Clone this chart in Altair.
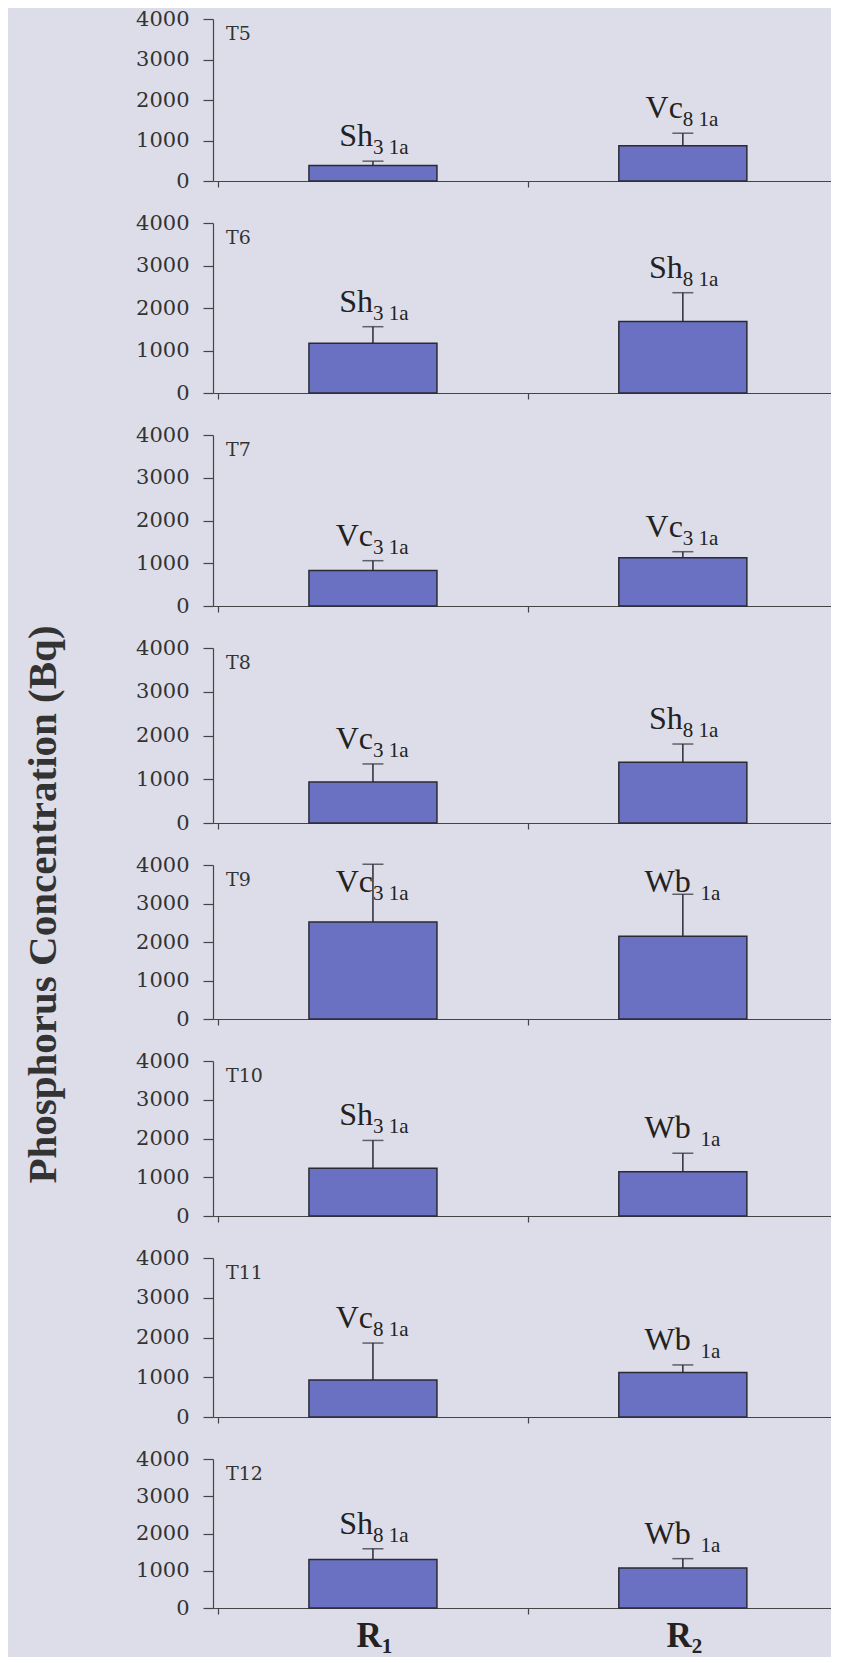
import altair as alt
import pandas as pd

# ---- data ----
panels = ["T5", "T6", "T7", "T8", "T9", "T10", "T11", "T12"]
reps = ["R1", "R2"]

r1_species = ["Sh", "Sh", "Vc", "Vc", "Vc", "Sh", "Vc", "Sh"]
r1_sub = ["3 1a", "3 1a", "3 1a", "3 1a", "3 1a", "3 1a", "8 1a", "8 1a"]
r1_mean = [380, 1170, 830, 940, 2520, 1230, 930, 1300]
r1_err = [110, 390, 230, 410, 1500, 720, 930, 290]

r2_species = ["Vc", "Sh", "Vc", "Sh", "Wb", "Wb", "Wb", "Wb"]
r2_sub = ["8 1a", "8 1a", "3 1a", "8 1a", "1a", "1a", "1a", "1a"]
r2_mean = [870, 1680, 1130, 1390, 2150, 1140, 1120, 1075]
r2_err = [310, 680, 140, 415, 1090, 480, 190, 250]

y_ticks = [0, 1000, 2000, 3000, 4000]
rep_letter = ["R", "R"]
rep_sub = ["1", "2"]

# ---- styling ----
BG = "#dcdde8"
BAR = "#6a71c2"
EDGE = "#2a2a35"
TXT = "#222222"
AX = "#444444"
heights = [162, 170, 171, 175, 154, 155, 159, 149]
PW = 618
PX_PER_UNIT = 315
XMAX = PW / PX_PER_UNIT

x_enc = alt.X(
    "pos:Q",
    scale=alt.Scale(domain=[0, XMAX], nice=False, zero=False),
    axis=alt.Axis(values=[0, 1], tickCount=10, labels=False, title=None,
                  grid=False, tickSize=6, tickColor=AX, domainColor=AX,
                  domainWidth=1.2, tickWidth=1.2),
)
y_scale = alt.Scale(domain=[0, 4000], nice=False)
y_axis = alt.Axis(values=y_ticks, tickCount=10, format="d", title=None,
                  grid=False, tickSize=10, labelPadding=14, labelOverlap=False,
                  labelFont="DejaVu Serif", labelFontSize=21,
                  labelColor="#333333", domainColor=AX, tickColor=AX,
                  domainWidth=1.2, tickWidth=1.2)


def panel(i, last):
    df = pd.DataFrame({
        "rep": reps,
        "mean": [r1_mean[i], r2_mean[i]],
        "err": [r1_err[i], r2_err[i]],
        "base": [r1_species[i], r2_species[i]],
        "sub": [r1_sub[i], r2_sub[i]],
    })
    base = alt.Chart(df).transform_calculate(
        pos="indexof(['R1','R2'], datum.rep) + 0.5",
        top="datum.mean + datum.err",
        laby="min(datum.mean + datum.err, 2900)",
    ).transform_calculate(
        labx="datum.pos + (datum.base == 'Wb' ? 8 : 0) / %d" % PX_PER_UNIT,
        subx="datum.pos + (datum.base == 'Wb' ? 18 : 0) / %d" % PX_PER_UNIT,
    )
    bars = base.mark_bar(orient="vertical", width=128, color=BAR, stroke=EDGE,
                         strokeWidth=1.5).encode(
        x=x_enc, y=alt.Y("mean:Q", scale=y_scale, axis=y_axis))
    rule = base.mark_rule(color=EDGE, strokeWidth=1.5).encode(
        x="pos:Q", y="mean:Q", y2="top:Q")
    cap = base.mark_tick(orient="horizontal", size=21, thickness=1.5,
                         color=EDGE).encode(x="pos:Q", y="top:Q")
    lab = base.mark_text(align="right", baseline="alphabetic", dy=-15,
                         font="Liberation Serif", fontSize=32, color=TXT).encode(
        x="labx:Q", y="laby:Q", text="base:N")
    lab_sub = base.mark_text(align="left", baseline="alphabetic", dy=-7,
                             font="Liberation Serif", fontSize=21, color=TXT).encode(
        x="subx:Q", y="laby:Q", text="sub:N")
    tname = alt.Chart(pd.DataFrame({"t": [panels[i]]})).mark_text(
        align="left", baseline="top", dx=8, dy=6, font="DejaVu Serif",
        fontSize=19, color="#333333").encode(
        x=alt.datum(0), y=alt.datum(4000), text="t:N")
    layers = [bars, rule, cap, lab, lab_sub, tname]
    if last:
        rdf = pd.DataFrame({"rep": reps, "r": rep_letter, "s": rep_sub})
        rb = alt.Chart(rdf).transform_calculate(
            pos="indexof(['R1','R2'], datum.rep) + 0.5 + 9 / %d" % PX_PER_UNIT)
        rtext = rb.mark_text(align="right", baseline="alphabetic", dy=39,
                             font="Liberation Serif", fontSize=35,
                             fontWeight="bold", color=TXT).encode(
            x="pos:Q", y=alt.datum(0), text="r:N")
        rsub = rb.mark_text(align="left", baseline="alphabetic", dy=45,
                            font="Liberation Serif", fontSize=21,
                            fontWeight="bold", color=TXT).encode(
            x="pos:Q", y=alt.datum(0), text="s:N")
        layers += [rtext, rsub]
    return alt.layer(*layers).properties(width=PW, height=heights[i])


charts = [panel(i, i == len(panels) - 1) for i in range(len(panels))]

chart = alt.vconcat(
    *charts, spacing=42, bounds="flush",
    title=alt.TitleParams(
        "Phosphorus Concentration (Bq)", orient="left", anchor="middle",
        font="Liberation Serif", fontSize=41, fontWeight="bold",
        color="#333333", offset=71, dx=-72),
).properties(
    padding={"left": 14, "top": 0, "right": 0, "bottom": 0},
    background=BG,
).configure_view(stroke=None)

chart.save("out.html", embed_options={"renderer": "svg", "actions": False})
